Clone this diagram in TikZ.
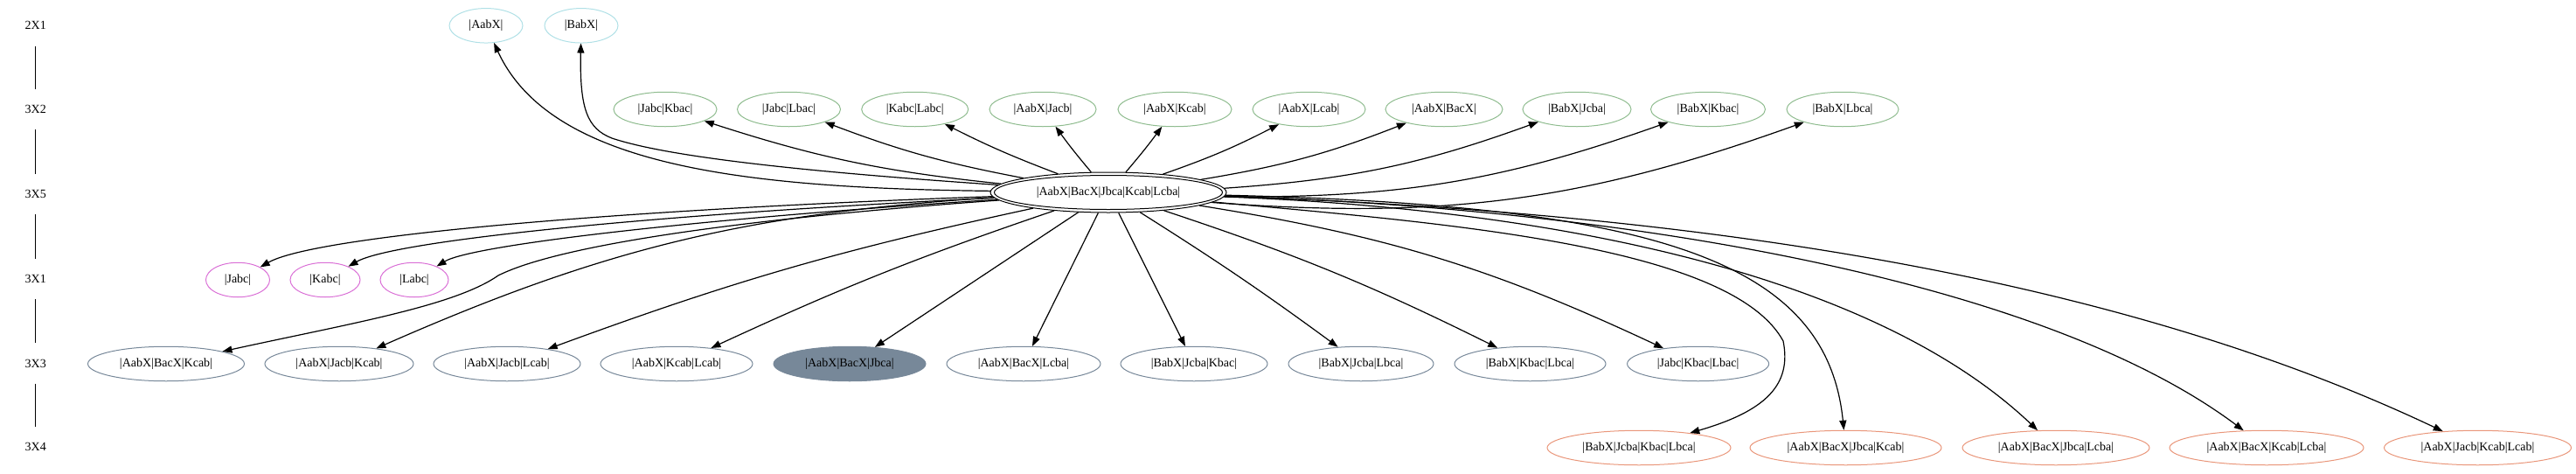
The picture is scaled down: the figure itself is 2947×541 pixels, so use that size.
\documentclass[tikz,border=0pt]{standalone}
\usepackage{fontspec}
\setmainfont{Liberation Serif}
\usetikzlibrary{shapes.geometric,arrows.meta}
\definecolor{cyanc}{HTML}{B0E0E6}
\definecolor{greenc}{HTML}{8FBC8F}
\definecolor{orchidc}{HTML}{DA70D6}
\definecolor{slatec}{HTML}{778899}
\definecolor{salmonc}{HTML}{E9967A}
\begin{document}
\begin{tikzpicture}[x=1pt,y=-1pt,
  every node/.style={font=\fontsize{14}{16}\selectfont},
  gnode/.style={ellipse, draw, line width=1pt, inner sep=0pt, minimum height=39.5pt},
  ncy/.style={gnode, draw=cyanc},
  ngr/.style={gnode, draw=greenc},
  nor/.style={gnode, draw=orchidc},
  nsl/.style={gnode, draw=slatec},
  nfill/.style={gnode, draw=slatec, fill=slatec},
  nsa/.style={gnode, draw=salmonc},
  mainnode/.style={ellipse, draw, line width=1pt, inner sep=0pt, minimum width=270pt, minimum height=46pt},
  rank/.style={inner sep=0pt, minimum height=46pt},
  rankline/.style={line width=1pt},
  arr/.style={-{Triangle[length=11pt,width=8pt]}, line width=1.2pt}
]
\useasboundingbox (0,0) rectangle (2947,541);

% rank labels
\node[rank] (r21) at (40.7,29.3) {2X1};
\node[rank] (r32) at (40.7,125) {3X2};
\node[rank] (r35) at (40.7,222) {3X5};
\node[rank] (r31) at (40.7,319) {3X1};
\node[rank] (r33) at (40.7,415.5) {3X3};
\node[rank] (r34) at (40.7,511) {3X4};
\draw[rankline] (r21) -- (r32);
\draw[rankline] (r32) -- (r35);
\draw[rankline] (r35) -- (r31);
\draw[rankline] (r31) -- (r33);
\draw[rankline] (r33) -- (r34);

% 2X1
\node[ncy, minimum width=84pt] (aabx) at (556,29.3) {|AabX|};
\node[ncy, minimum width=84pt] (babx) at (665,29.3) {|BabX|};

% 3X2
\node[ngr, minimum width=118pt] (jk) at (761,125) {|Jabc|Kbac|};
\node[ngr, minimum width=118pt] (jl) at (902.5,125) {|Jabc|Lbac|};
\node[ngr, minimum width=122pt] (kl) at (1046.7,125) {|Kabc|Labc|};
\node[ngr, minimum width=122pt] (aj) at (1193,125) {|AabX|Jacb|};
\node[ngr, minimum width=130pt] (ak) at (1344,125) {|AabX|Kcab|};
\node[ngr, minimum width=129pt] (al) at (1497.5,125) {|AabX|Lcab|};
\node[ngr, minimum width=134pt] (ab) at (1652,125) {|AabX|BacX|};
\node[ngr, minimum width=124pt] (bj) at (1804,125) {|BabX|Jcba|};
\node[ngr, minimum width=131pt] (bk) at (1954,125) {|BabX|Kbac|};
\node[ngr, minimum width=128pt] (bl) at (2108,125) {|BabX|Lbca|};

% 3X5
\node[mainnode] (main) at (1268,220) {|AabX|BacX|Jbca|Kcab|Lcba|};
\draw[line width=1pt] (main.center) ellipse [x radius=130.5, y radius=19.5];

% 3X1
\node[nor, minimum width=73pt] (j) at (272,320) {|Jabc|};
\node[nor, minimum width=80pt] (k) at (372,320) {|Kabc|};
\node[nor, minimum width=78pt] (l) at (474,320) {|Labc|};

% 3X3
\node[nsl, minimum width=179pt] (abk) at (190,416) {|AabX|BacX|Kcab|};
\node[nsl, minimum width=170pt] (ajk) at (388,416) {|AabX|Jacb|Kcab|};
\node[nsl, minimum width=168pt] (ajl) at (580,416) {|AabX|Jacb|Lcab|};
\node[nsl, minimum width=174pt] (akl) at (774,416) {|AabX|Kcab|Lcab|};
\node[nfill, minimum width=174pt] (abj) at (972,416) {|AabX|BacX|Jbca|};
\node[nsl, minimum width=176pt] (abl) at (1171,416) {|AabX|BacX|Lcba|};
\node[nsl, minimum width=168pt] (bjk) at (1366,416) {|BabX|Jcba|Kbac|};
\node[nsl, minimum width=166pt] (bjl) at (1557,416) {|BabX|Jcba|Lbca|};
\node[nsl, minimum width=173pt] (bkl) at (1750.5,416) {|BabX|Kbac|Lbca|};
\node[nsl, minimum width=162pt] (jkl) at (1942.6,416) {|Jabc|Kbac|Lbac|};

% 3X4
\node[nsa, minimum width=210pt] (bjkl) at (1875,512) {|BabX|Jcba|Kbac|Lbca|};
\node[nsa, minimum width=219pt] (abjk) at (2111.5,512) {|AabX|BacX|Jbca|Kcab|};
\node[nsa, minimum width=214pt] (abjl) at (2352,512) {|AabX|BacX|Jbca|Lcba|};
\node[nsa, minimum width=222pt] (abkl) at (2593,512) {|AabX|BacX|Kcab|Lcba|};
\node[nsa, minimum width=214pt] (ajkl) at (2834.5,512) {|AabX|Jacb|Kcab|Lcab|};

% waypoints
\coordinate (wb) at (700,158);
\coordinate (ws) at (570,315);
\coordinate (wr) at (2040,390);

% edges up to 2X1
\draw[arr] (main) .. controls (850,215) and (630,190) .. (aabx);
\draw[arr] (main) .. controls (900,195) and (760,178) .. (wb) .. controls (672,147) and (663,125) .. (babx);

% edges up to 3X2
\draw[arr] (main) to[bend left=6] (jk);
\draw[arr] (main) to[bend left=5] (jl);
\draw[arr] (main) to[bend left=3] (kl);
\draw[arr] (main) to[bend left=2] (aj);
\draw[arr] (main) to[bend right=2] (ak);
\draw[arr] (main) to[bend right=4] (al);
\draw[arr] (main) to[bend right=6] (ab);
\draw[arr] (main) to[bend right=8] (bj);
\draw[arr] (main) to[bend right=10] (bk);
\draw[arr] (main) to[bend right=12] (bl);

% edges down to 3X1
\draw[arr] (main) .. controls (700,240) and (360,270) .. (j);
\draw[arr] (main) .. controls (750,245) and (450,275) .. (k);
\draw[arr] (main) .. controls (800,250) and (540,280) .. (l);

% edges down to 3X3
\draw[arr] (main) .. controls (850,250) and (640,280) .. (ws) .. controls (520,350) and (400,370) .. (abk);
\draw[arr] (main) to[bend right=10] (ajk);
\draw[arr] (main) to[bend right=4] (ajl);
\draw[arr] (main) to[bend right=3] (akl);
\draw[arr] (main) -- (abj);
\draw[arr] (main) -- (abl);
\draw[arr] (main) -- (bjk);
\draw[arr] (main) to[bend left=2] (bjl);
\draw[arr] (main) to[bend left=4] (bkl);
\draw[arr] (main) to[bend left=8] (jkl);

% edges down to 3X4
\draw[arr] (main) .. controls (1650,255) and (1980,280) .. (wr) .. controls (2050,440) and (2020,470) .. (bjkl);
\draw[arr] (main) .. controls (1900,235) and (2090,300) .. (abjk);
\draw[arr] (main) .. controls (1800,240) and (2150,320) .. (abjl);
\draw[arr] (main) .. controls (1900,240) and (2350,330) .. (abkl);
\draw[arr] (main) .. controls (2000,245) and (2450,330) .. (ajkl);
\end{tikzpicture}
\end{document}
